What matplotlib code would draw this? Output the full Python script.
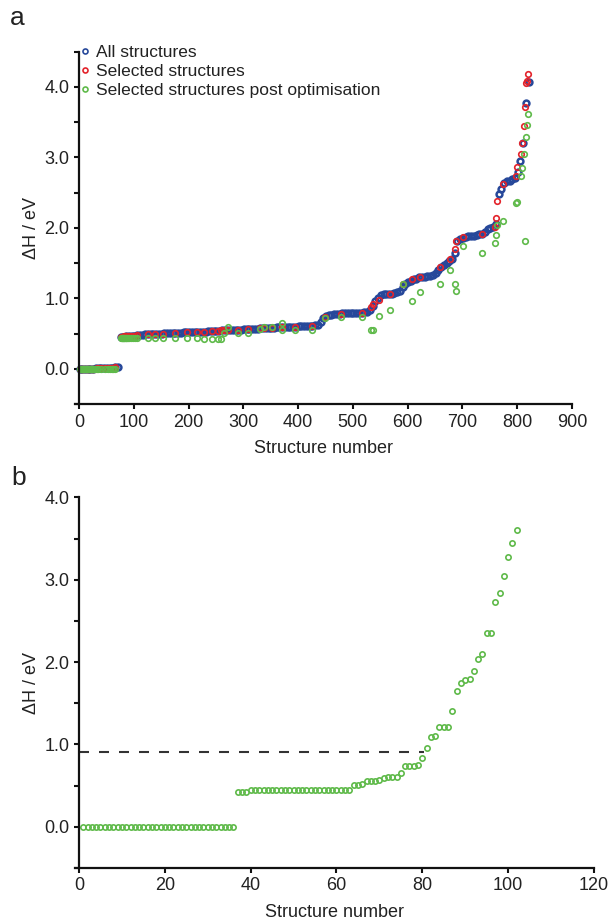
import numpy as np
import matplotlib
matplotlib.use("Agg")
import matplotlib.pyplot as plt

plt.rcParams['font.family'] = ['Liberation Sans', 'DejaVu Sans']

# ---- panel a: all structures, sorted by dH (read every 5th structure) ----
all_step = 5
all_dh = [
    0.00, 0.00, 0.00, 0.00, 0.005, 0.005, 0.01, 0.01, 0.01, 0.015,
    0.015, 0.02, 0.02, 0.025, 0.03, 0.45, 0.46, 0.465, 0.47, 0.47,
    0.475, 0.48, 0.48, 0.485, 0.49, 0.49, 0.49, 0.495, 0.50, 0.50,
    0.50, 0.505, 0.505, 0.51, 0.51, 0.51, 0.515, 0.515, 0.52, 0.52,
    0.52, 0.525, 0.525, 0.525, 0.53, 0.53, 0.53, 0.535, 0.535, 0.54,
    0.54, 0.545, 0.55, 0.55, 0.555, 0.555, 0.56, 0.56, 0.56, 0.56,
    0.565, 0.565, 0.565, 0.57, 0.57, 0.57, 0.575, 0.575, 0.58, 0.58,
    0.585, 0.585, 0.59, 0.59, 0.59, 0.595, 0.595, 0.60, 0.60, 0.60,
    0.605, 0.605, 0.61, 0.61, 0.61, 0.615, 0.62, 0.63, 0.66, 0.72,
    0.75, 0.76, 0.77, 0.78, 0.78, 0.785, 0.79, 0.79, 0.79, 0.795,
    0.795, 0.80, 0.80, 0.80, 0.805, 0.81, 0.83, 0.90, 0.96, 1.00,
    1.05, 1.06, 1.06, 1.07, 1.07, 1.08, 1.09, 1.10, 1.17, 1.21,
    1.23, 1.25, 1.27, 1.28, 1.30, 1.30, 1.31, 1.32, 1.32, 1.33,
    1.36, 1.41, 1.45, 1.48, 1.50, 1.53, 1.56, 1.65, 1.82, 1.85,
    1.86, 1.87, 1.88, 1.89, 1.89, 1.90, 1.91, 1.92, 1.95, 1.98,
    2.00, 2.02, 2.05, 2.48, 2.55, 2.64, 2.66, 2.67, 2.69, 2.71,
    2.80, 2.95, 3.20, 3.77, 4.07,
]

# selected structures: index, dH before and after optimisation
sel_idx = [
    2, 3, 4, 5, 6, 7, 8, 9, 10, 11, 12, 13, 14, 15, 16, 17, 18, 19, 20, 21,
    22, 23, 24, 25, 26, 28, 30, 32, 35, 41, 47, 53, 57, 60, 63, 66,
    77, 78, 79, 80, 81, 82, 83, 84, 85, 86, 88, 90, 92, 95, 98, 102, 106,
    126, 139, 153, 175, 198, 215, 228, 242, 253, 260,
    264, 272, 290, 308, 330, 338, 352, 370, 371, 395, 425, 534, 537,
    449, 479, 517, 547, 567, 592, 608, 623, 659, 678, 687, 689, 701, 736,
    759, 762, 763, 774, 797, 799, 807, 808, 813, 815, 816, 818, 820,
]
sel_pre = [
    0.00, 0.00, 0.00, 0.00, 0.00, 0.00, 0.00, 0.00, 0.00, 0.00, 0.00, 0.00,
    0.00, 0.00, 0.00, 0.00, 0.00, 0.00, 0.00, 0.005, 0.005, 0.005, 0.005,
    0.005, 0.005, 0.005, 0.005, 0.01, 0.01, 0.01, 0.015, 0.015, 0.02, 0.02,
    0.02, 0.025,
    0.455, 0.455, 0.46, 0.46, 0.46, 0.46, 0.465, 0.465, 0.465, 0.465, 0.47,
    0.47, 0.47, 0.47, 0.475, 0.475, 0.48,
    0.49, 0.495, 0.50, 0.51, 0.52, 0.525, 0.53, 0.535, 0.54, 0.55,
    0.55, 0.555, 0.56, 0.565, 0.575, 0.575, 0.585, 0.59, 0.59, 0.60, 0.615,
    0.875, 0.92,
    0.74, 0.78, 0.79, 0.98, 1.07, 1.20, 1.28, 1.30, 1.44, 1.56, 1.70, 1.82,
    1.87, 1.91, 2.02, 2.14, 2.39, 2.62, 2.74, 2.87, 3.05, 3.20, 3.45, 3.72,
    4.05, 4.09, 4.18,
]
sel_post = [
    0.00, 0.00, 0.00, 0.00, 0.00, 0.00, 0.00, 0.00, 0.00, 0.00, 0.00, 0.00,
    0.00, 0.00, 0.00, 0.00, 0.00, 0.00, 0.00, 0.00, 0.00, 0.00, 0.00, 0.00,
    0.00, 0.00, 0.00, 0.00, 0.00, 0.00, 0.00, 0.00, 0.00, 0.00, 0.00, 0.00,
    0.44, 0.44, 0.44, 0.44, 0.44, 0.44, 0.44, 0.44, 0.44, 0.44, 0.44,
    0.44, 0.44, 0.44, 0.44, 0.44, 0.44,
    0.44, 0.44, 0.44, 0.44, 0.44, 0.44, 0.425, 0.425, 0.425, 0.425,
    0.51, 0.60, 0.51, 0.51, 0.57, 0.59, 0.60, 0.56, 0.65, 0.55, 0.56,
    0.56, 0.56,
    0.73, 0.74, 0.74, 0.745, 0.84, 1.21, 0.96, 1.09, 1.21, 1.41, 1.21, 1.105,
    1.745, 1.65, 1.79, 1.895, 2.04, 2.10, 2.35, 2.37, 2.74, 2.85, 3.05, 1.81,
    3.29, 3.46, 3.61,
]

# ---- panel b: post optimisation dH, ranked ----
rank_dh = [
    0.00, 0.00, 0.00, 0.00, 0.00, 0.00, 0.00, 0.00, 0.00, 0.00,
    0.00, 0.00, 0.00, 0.00, 0.00, 0.00, 0.00, 0.00, 0.00, 0.00,
    0.00, 0.00, 0.00, 0.00, 0.00, 0.00, 0.00, 0.00, 0.00, 0.00,
    0.00, 0.00, 0.00, 0.00, 0.00, 0.00,
    0.425, 0.425, 0.425,
    0.44, 0.44, 0.44, 0.44, 0.44, 0.44, 0.44, 0.44, 0.44, 0.44, 0.44, 0.44,
    0.44, 0.44, 0.44, 0.44, 0.44, 0.44, 0.44, 0.44, 0.44, 0.44, 0.44, 0.44,
    0.51, 0.51, 0.52, 0.55, 0.56, 0.56,
    0.567, 0.59, 0.60, 0.60, 0.60, 0.65, 0.74, 0.74, 0.74, 0.745,
    0.84, 0.96, 1.09, 1.105, 1.21, 1.215, 1.215, 1.41, 1.65, 1.745,
    1.786, 1.79, 1.895, 2.04, 2.10, 2.35, 2.35, 2.73, 2.84, 3.04,
    3.28, 3.45, 3.60,
]
cutoff = 0.91
cutoff_end = 80.5

a_xticks = list(range(0, 901, 100))
a_yticks = [-0.5, 0.0, 0.5, 1.0, 1.5, 2.0, 2.5, 3.0, 3.5, 4.0, 4.5]
b_xticks = list(range(0, 121, 20))
b_yticks = [-0.5, 0.0, 0.5, 1.0, 1.5, 2.0, 2.5, 3.0, 3.5, 4.0]

blue = '#27489a'
red = '#e3232b'
green = '#5fba4a'
txt = '#222222'


def style(ax, xticks, yticks):
    for s in ['top', 'right']:
        ax.spines[s].set_visible(False)
    for s in ['left', 'bottom']:
        ax.spines[s].set_linewidth(1.6)
        ax.spines[s].set_color('#111111')
    ax.spines['left'].set_position(('data', 0))
    ax.set_xticks(xticks)
    ax.set_yticks(yticks)
    ax.set_yticklabels(['%.1f' % t if abs(t - round(t)) < 1e-9 else '' for t in yticks])
    ax.tick_params(direction='out', length=3.8, width=1.5, labelsize=13,
                   labelcolor=txt, color='#111111', pad=3)
    ax.set_xlabel('Structure number', fontsize=13, color=txt, labelpad=7)
    ax.set_ylabel('ΔH / eV', fontsize=13, color=txt, labelpad=3)


fig = plt.figure(figsize=(6.08, 9.24), dpi=100)

ax1 = fig.add_axes([0.1227, 0.5625, 0.818, 0.3815])
n_all = 1 + all_step * np.arange(len(all_dh))
ax1.plot(n_all, all_dh, 'o', ls='none', ms=4.2, mfc='none', mec=blue, mew=1.8,
         label='All structures')
ax1.plot(sel_idx, sel_pre, 'o', ls='none', ms=4.0, mfc='none', mec=red, mew=1.2,
         label='Selected structures')
ax1.plot(sel_idx, sel_post, 'o', ls='none', ms=4.0, mfc='none', mec=green, mew=1.2,
         label='Selected structures post optimisation')
ax1.set_xlim(-8, 900)
ax1.set_ylim(-0.5, 4.5)
style(ax1, a_xticks, a_yticks)
leg = ax1.legend(loc='upper left', bbox_to_anchor=(0.014, 1.02), frameon=False,
                 fontsize=12.5, handlelength=0.4, handletextpad=0.45,
                 labelspacing=0.22, borderpad=0, borderaxespad=0)
for h in leg.legend_handles:
    h.set_markeredgewidth(1.2)
    h.set_markersize(3.6)
for t in leg.get_texts():
    t.set_color(txt)

ax2 = fig.add_axes([0.1229, 0.0608, 0.854, 0.4008])
rank = np.arange(1, len(rank_dh) + 1)
ax2.plot([0, cutoff_end], [cutoff, cutoff], color='#333333', lw=1.5,
         ls=(0, (4.8, 4.8)))
ax2.plot(rank, rank_dh, 'o', ls='none', ms=3.8, mfc='none', mec=green, mew=1.2)
ax2.set_xlim(-1, 120)
ax2.set_ylim(-0.5, 4.0)
style(ax2, b_xticks, b_yticks)

fig.text(0.028, 0.980, 'a', fontsize=19, color=txt, va='center', ha='center')
fig.text(0.030, 0.483, 'b', fontsize=19, color=txt, va='center', ha='center')

fig.savefig('out.png', dpi=100)
